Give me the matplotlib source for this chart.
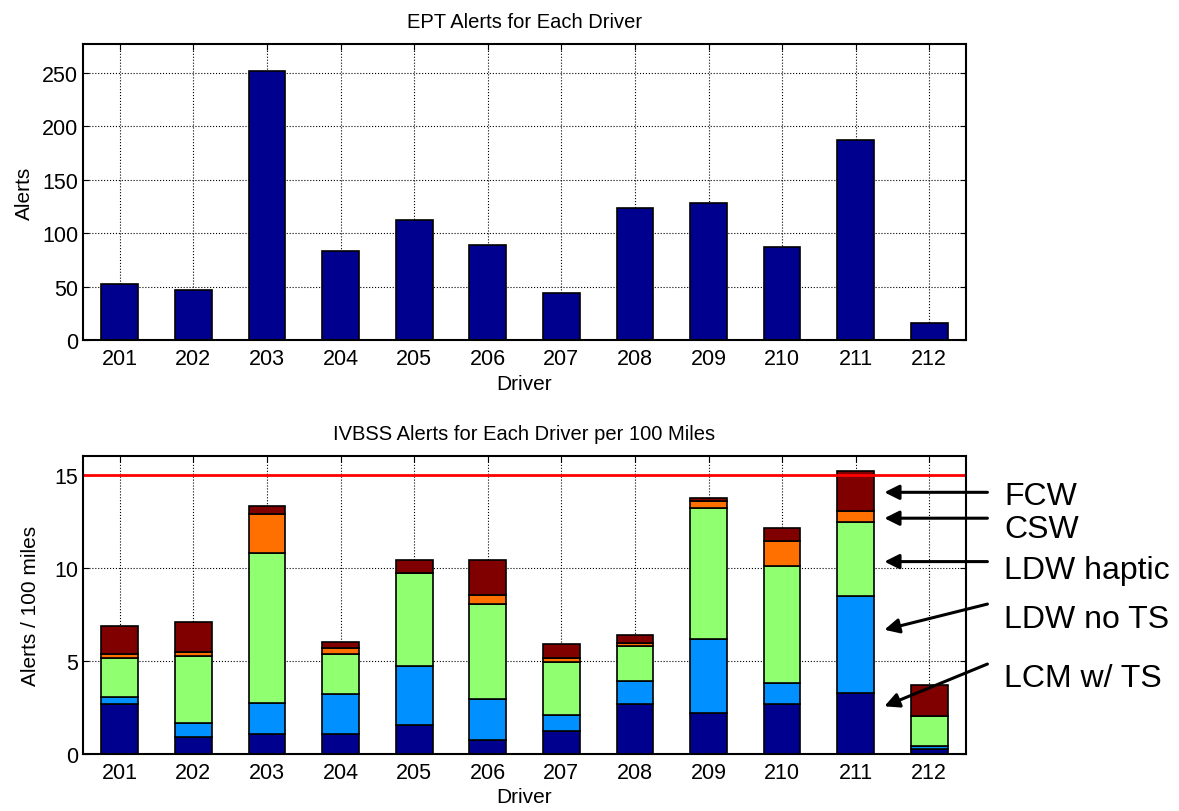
import matplotlib.pyplot as plt
import numpy as np

plt.rcParams['font.family'] = ['Liberation Sans', 'DejaVu Sans']

drivers = ['201', '202', '203', '204', '205', '206', '207', '208', '209', '210', '211', '212']

# EPT alert counts per driver
ept_alerts = [52, 47, 252, 83, 112, 89, 44, 124, 128, 87, 187, 16]

# IVBSS alerts per 100 miles, stacked bottom to top
lcm_ts     = [2.66, 0.93, 1.07, 1.07, 1.55, 0.73, 1.25, 2.66, 2.20, 2.66, 3.25, 0.25]
ldw_nots   = [0.41, 0.73, 1.66, 2.13, 3.16, 2.20, 0.82, 1.27, 4.00, 1.13, 5.21, 0.16]
ldw_haptic = [2.06, 3.61, 8.07, 2.19, 5.02, 5.14, 2.89, 1.86, 7.01, 6.28, 4.00, 1.64]
csw        = [0.25, 0.19, 2.08, 0.32, 0.00, 0.47, 0.18, 0.17, 0.39, 1.39, 0.61, 0.00]
fcw        = [1.50, 1.63, 0.41, 0.31, 0.66, 1.87, 0.79, 0.43, 0.15, 0.68, 2.14, 1.66]
threshold = 15

series = [lcm_ts, ldw_nots, ldw_haptic, csw, fcw]
colors = ['#00008f', '#0090ff', '#90ff70', '#ff7000', '#800000']
labels = ['LCM w/ TS', 'LDW no TS', 'LDW haptic', 'CSW', 'FCW']

x = np.arange(201, 213)
fig = plt.figure(figsize=(11.79, 8.12), dpi=100)
ax1 = fig.add_axes([0.0704, 0.580, 0.749, 0.3645])
ax2 = fig.add_axes([0.0704, 0.0702, 0.749, 0.367])

def style(ax):
    ax.set_xlim(200.5, 212.5)
    ax.set_xticks(x)
    ax.set_xticklabels(drivers)
    ax.grid(True, color='k', linestyle=':', linewidth=0.8)
    ax.set_axisbelow(True)
    ax.tick_params(direction='in', top=True, right=True, labelsize=15.5, length=4)
    ax.tick_params(axis='x', pad=6)
    for s in ax.spines.values():
        s.set_linewidth(1.5)

ax1.bar(x, ept_alerts, width=0.5, color='#00008f', edgecolor='k', linewidth=1.2)
style(ax1)
ax1.set_ylim(0, 277)
ax1.set_yticks([0, 50, 100, 150, 200, 250])
ax1.set_title('EPT Alerts for Each Driver', fontsize=14.5, pad=12)
ax1.set_xlabel('Driver', fontsize=15, labelpad=3)
ax1.set_ylabel('Alerts', fontsize=15, labelpad=6)

bottom = np.zeros(len(x))
for vals, c, lab in zip(series, colors, labels):
    ax2.bar(x, vals, width=0.5, bottom=bottom, color=c, edgecolor='k', linewidth=1.2, label=lab)
    bottom += np.array(vals)
ax2.axhline(threshold, color='#ff0000', linewidth=2)
style(ax2)
ax2.set_ylim(0, 16)
ax2.set_yticks([0, 5, 10, 15])
ax2.set_title('IVBSS Alerts for Each Driver per 100 Miles', fontsize=14.5, pad=12)
ax2.set_xlabel('Driver', fontsize=15, labelpad=3)
ax2.set_ylabel('Alerts / 100 miles', fontsize=15, labelpad=10)

# callouts naming the stacked segments
arrows = [('FCW', (211.39, 14.05), (212.79, 14.05), 13.42),
          ('CSW', (211.39, 12.66), (212.79, 12.66), 11.63),
          ('LDW haptic', (211.39, 10.33), (212.79, 10.33), 9.45),
          ('LDW no TS', (211.39, 6.67), (212.79, 8.05), 6.80),
          ('LCM w/ TS', (211.39, 2.56), (212.79, 4.83), 3.67)]
for txt, head, tail, ybase in arrows:
    ax2.annotate('', xy=head, xytext=tail, annotation_clip=False,
                 arrowprops=dict(arrowstyle='-|>', color='k', lw=2.2,
                                 mutation_scale=22, shrinkA=0, shrinkB=0))
    ax2.text(213.02, ybase, txt, fontsize=23, va='baseline', ha='left', clip_on=False)

fig.savefig('out.png', dpi=100)
